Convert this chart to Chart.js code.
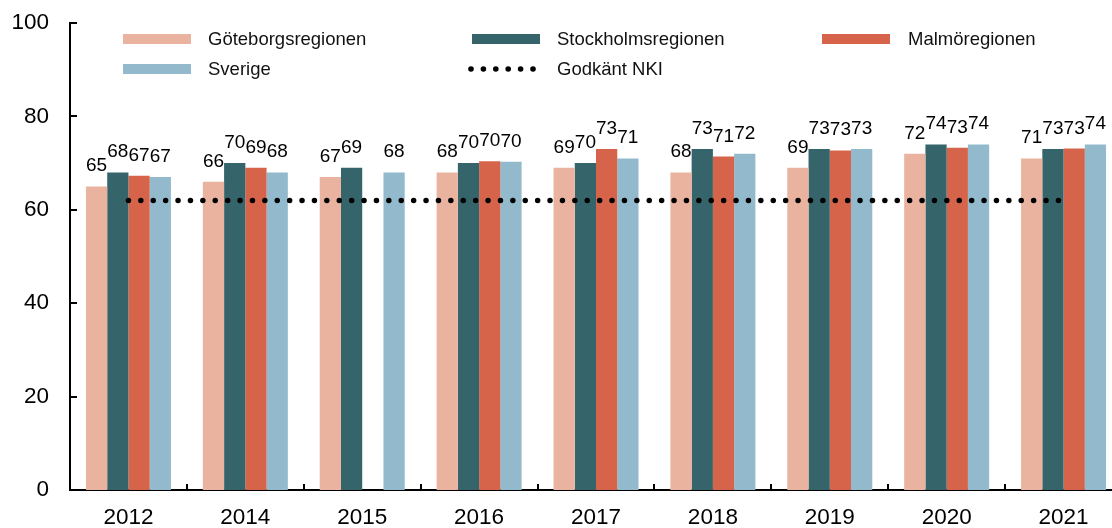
<!DOCTYPE html>
<html><head><meta charset="utf-8">
<script src="https://cdn.jsdelivr.net/npm/chart.js@4.4.0/dist/chart.umd.min.js"></script>
<style>
html,body{margin:0;padding:0;overflow:hidden;background:#fff;}
#wrap{width:1124px;height:528px;position:relative;}
</style></head><body>
<div id="wrap"><canvas id="c"></canvas></div>
<script>
const categories = ['2012','2014','2015','2016','2017','2018','2019','2020','2021'];
const goteborg  = [65, 66, 67, 68, 69, 68, 69, 72, 71];
const stockholm = [68, 70, 69, 70, 70, 73, 73, 74, 73];
const malmo     = [67.3, 69, null, 70.4, 73, 71.4, 72.7, 73.3, 73.1];
const sverige   = [67, 68, 68, 70.3, 71, 72, 73, 74, 74];
const godkantNKI = [62, 62, 62, 62, 62, 62, 62, 62, 62];
const yTicks = [0, 20, 40, 60, 80, 100];

const FONT = "'Liberation Sans', Arial, sans-serif";
const COLORS = {gbg:'#EAB39F', sthlm:'#35646A', malmo:'#D5644B', sve:'#92B9CC'};

const tickMarks = {
  id:'tickMarks',
  afterDraw(chart){
    const {ctx, chartArea:a, scales:{x, y}} = chart;
    ctx.save();
    ctx.strokeStyle = '#000'; ctx.lineWidth = 2;
    yTicks.forEach(v => {
      const py = Math.round(y.getPixelForValue(v));
      ctx.beginPath(); ctx.moveTo(a.left, py); ctx.lineTo(a.left + 7, py); ctx.stroke();
    });
    for (let i = 1; i <= categories.length; i++) {
      const px = Math.round(x.getPixelForValue(i - 0.5));
      ctx.beginPath(); ctx.moveTo(px, a.bottom); ctx.lineTo(px, a.bottom - 6); ctx.stroke();
    }
    ctx.restore();
  }
};

const dataLabels = {
  id:'dataLabels',
  afterDatasetsDraw(chart){
    const ctx = chart.ctx;
    ctx.save();
    ctx.font = '19px ' + FONT;
    ctx.fillStyle = '#000';
    ctx.textAlign = 'center';
    ctx.textBaseline = 'alphabetic';
    chart.data.datasets.forEach((ds, di) => {
      if (ds.type === 'line') return;
      const meta = chart.getDatasetMeta(di);
      meta.data.forEach((bar, i) => {
        const v = ds.data[i];
        if (v === null || v === undefined) return;
        ctx.fillText(String(Math.round(v)), bar.x, bar.y - 15);
      });
    });
    ctx.restore();
  }
};

const customLegend = {
  id:'customLegend',
  afterDraw(chart){
    const ctx = chart.ctx;
    const ds = chart.data.datasets;
    const items = [
      {i:0, bx:123, tx:208, y:39},
      {i:1, bx:472, tx:557, y:39},
      {i:2, bx:822, tx:908, y:39},
      {i:3, bx:123, tx:208, y:69},
      {i:4, bx:471, tx:557, y:69}
    ];
    ctx.save();
    ctx.font = '18.5px ' + FONT;
    ctx.textBaseline = 'middle';
    ctx.textAlign = 'left';
    items.forEach(it => {
      const d = ds[it.i];
      if (d.type === 'line') {
        ctx.fillStyle = '#000';
        for (let k = 0; k < 6; k++) {
          ctx.beginPath(); ctx.arc(it.bx + k * 12.4, it.y, 2.8, 0, Math.PI * 2); ctx.fill();
        }
      } else {
        ctx.fillStyle = d.backgroundColor;
        ctx.fillRect(it.bx, it.y - 5, 68, 10);
      }
      ctx.fillStyle = '#111';
      ctx.fillText(d.label, it.tx, it.y + 1);
    });
    ctx.restore();
  }
};

new Chart(document.getElementById('c'), {
  type:'bar',
  data:{
    labels: categories,
    datasets:[
      {label:'Göteborgsregionen', data: goteborg, backgroundColor: COLORS.gbg, order:1},
      {label:'Stockholmsregionen', data: stockholm, backgroundColor: COLORS.sthlm, order:1},
      {label:'Malmöregionen', data: malmo, backgroundColor: COLORS.malmo, order:1},
      {label:'Sverige', data: sverige, backgroundColor: COLORS.sve, order:1},
      {type:'line', label:'Godkänt NKI', data: godkantNKI, borderColor:'#000', backgroundColor:'#000',
       borderWidth:5.5, borderDash:[0, 12.4], borderCapStyle:'round', pointRadius:0, fill:false, order:0, tension:0}
    ]
  },
  options:{
    responsive:true, maintainAspectRatio:false, animation:false,
    layout:{padding:{top:23, right:2, left:0, bottom:0}},
    plugins:{legend:{display:false}, tooltip:{enabled:false}},
    datasets:{bar:{categoryPercentage:0.727, barPercentage:1}},
    scales:{
      x:{
        grid:{display:false, drawTicks:false, tickLength:0},
        border:{display:true, color:'#000', width:2},
        ticks:{font:{size:22.5, family:FONT}, color:'#000', padding:14},
        afterFit(s){ s.height = 38; s.paddingLeft = 0; s.paddingRight = 0; }
      },
      y:{
        min:0, max:100,
        grid:{display:false, drawTicks:false, tickLength:0},
        border:{display:true, color:'#000', width:2},
        ticks:{stepSize:20, font:{size:22.5, family:FONT}, color:'#000', padding:21},
        afterFit(s){ s.width = 70; s.paddingTop = 0; s.paddingBottom = 0; }
      }
    }
  },
  plugins:[tickMarks, dataLabels, customLegend]
});
</script>
</body></html>
